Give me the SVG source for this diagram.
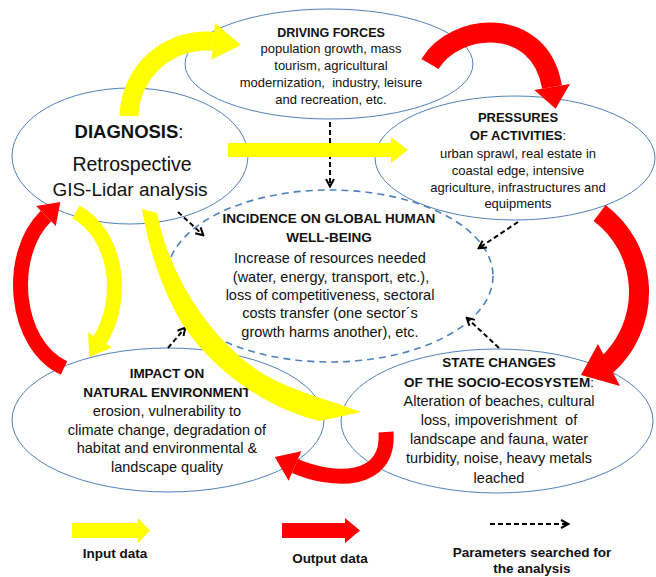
<svg xmlns="http://www.w3.org/2000/svg" width="656" height="577" viewBox="0 0 656 577">
<defs>
<style>
.t{font-family:'Liberation Sans',Arial,sans-serif;fill:#111;text-anchor:middle}
.b{font-weight:bold}
.n{stroke:#4f81bd;stroke-width:1;fill:none}
.nd{stroke:#4f81bd;stroke-width:1.6;fill:none;stroke-dasharray:7 5}
.d{stroke:#000;stroke-width:2;stroke-dasharray:5 3;fill:none;marker-end:url(#ah)}
.y{fill:#ffff00}
.r{fill:#ff0000}
.ys{stroke:#ffff00;fill:none}
.rs{stroke:#ff0000;fill:none}
</style>
<marker id="ah" viewBox="0 0 10 10" refX="8" refY="5" markerWidth="10" markerHeight="10" markerUnits="userSpaceOnUse" orient="auto">
<path d="M1,1 L8.5,5 L1,9" stroke="#000" stroke-width="2" fill="none"/>
</marker>
</defs>
<rect width="656" height="577" fill="#fff"/>

<g id="driving-forces">
<ellipse class="n" cx="329" cy="64" rx="144" ry="55"/>
<text class="t b" x="331" y="37" font-size="12.5">DRIVING FORCES</text>
<text class="t" x="331" y="53" font-size="13">population growth, mass</text>
<text class="t" x="331" y="70" font-size="13">tourism, agricultural</text>
<text class="t" x="331" y="87" font-size="13" xml:space="preserve">modernization,  industry, leisure</text>
<text class="t" x="331" y="104" font-size="13">and recreation, etc.</text>
</g>

<g id="pressures">
<ellipse class="n" cx="515" cy="158" rx="140" ry="62"/>
<text class="t b" x="518" y="122" font-size="13">PRESSURES</text>
<text class="t" x="518" y="140" font-size="13"><tspan font-weight="bold">OF ACTIVITIES</tspan>:</text>
<text class="t" x="518" y="158" font-size="13">urban sprawl, real estate in</text>
<text class="t" x="518" y="175" font-size="13">coastal edge, intensive</text>
<text class="t" x="518" y="192" font-size="13">agriculture, infrastructures and</text>
<text class="t" x="518" y="208" font-size="13">equipments</text>
</g>

<g id="diagnosis">
<ellipse class="n" cx="130" cy="156" rx="118" ry="68"/>
<text class="t" x="129" y="138" font-size="18.5"><tspan font-weight="bold">DIAGNOSIS</tspan>:</text>
<text class="t" x="132" y="171" font-size="19.5">Retrospective</text>
<text class="t" x="130" y="196" font-size="19">GIS-Lidar analysis</text>
</g>

<g id="incidence">
<ellipse class="nd" cx="330" cy="276" rx="163" ry="86"/>
<text class="t b" x="329" y="223" font-size="13.5">INCIDENCE ON GLOBAL HUMAN</text>
<text class="t b" x="329" y="242" font-size="13.5">WELL-BEING</text>
<text class="t" x="330" y="263" font-size="14.5">Increase of resources needed</text>
<text class="t" x="331" y="282" font-size="14.5">(water, energy, transport, etc.),</text>
<text class="t" x="330" y="300" font-size="14.5">loss of competitiveness, sectoral</text>
<text class="t" x="330" y="318" font-size="14.5">costs transfer (one sector´s</text>
<text class="t" x="330" y="337" font-size="14.5">growth harms another), etc.</text>
</g>

<g id="impact">
<ellipse class="n" cx="168" cy="420" rx="156" ry="72"/>
<text class="t b" x="167" y="378" font-size="13.5">IMPACT ON</text>
<text class="t b" x="167" y="397" font-size="13.5">NATURAL ENVIRONMENT</text>
<text class="t" x="167" y="415.5" font-size="14.5">erosion, vulnerability to</text>
<text class="t" x="167" y="434.5" font-size="14.5">climate change, degradation of</text>
<text class="t" x="167" y="453" font-size="14.5">habitat and environmental &amp;</text>
<text class="t" x="167" y="472" font-size="14.5">landscape quality</text>
</g>

<g id="state-changes">
<ellipse class="n" cx="497" cy="421" rx="156" ry="72"/>
<text class="t b" x="499" y="367" font-size="13.5">STATE CHANGES</text>
<text class="t" x="499" y="387" font-size="13.5"><tspan font-weight="bold">OF THE SOCIO-ECOSYSTEM</tspan>:</text>
<text class="t" x="499" y="406" font-size="14.5">Alteration of beaches, cultural</text>
<text class="t" x="499" y="425" font-size="14.5" xml:space="preserve">loss, impoverishment  of</text>
<text class="t" x="499" y="444" font-size="14.5">landscape and fauna, water</text>
<text class="t" x="499" y="463" font-size="14.5">turbidity, noise, heavy metals</text>
<text class="t" x="499" y="483" font-size="14.5">leached</text>
</g>

<g id="connectors">
<g id="dashed">
<line class="d" x1="330" y1="122" x2="330" y2="186"/>
<line class="d" x1="178" y1="212" x2="203" y2="235"/>
<line class="d" x1="518" y1="222" x2="479" y2="248"/>
<line class="d" x1="499" y1="348" x2="467" y2="318"/>
<line class="d" x1="168" y1="348" x2="185" y2="328"/>
</g>
<g id="big-arrows">
<path class="ys" stroke-width="19" d="M129,116 A77,77 0 0 1 213.2,41.3"/>
<polygon class="y" points="215,23 241,45 211.5,59.5"/>

<path class="rs" stroke-width="20" d="M430,64 C455,22 540,15 552,87"/>
<polygon class="r" points="570,84 555.6,108.7 534.3,90"/>

<path class="y" d="M228,143 H391 V137 L408,150 L391,163 V157 H228 Z"/>

<path class="rs" stroke-width="20" d="M599.6,212.9 A99,99 0 0 1 606.2,365.6"/>
<polygon class="r" points="598,344 620,386 581,375"/>

<path class="rs" stroke-width="15" d="M386,432 C390,485 332,482 295,466"/>
<polygon class="r" points="301.4,451.3 288.6,480.7 274.8,457"/>

<path class="rs" stroke-width="15" d="M64,368 C14,345 6,255 46,216"/>
<polygon class="r" points="55.8,226 36.2,206 60.3,202"/>

<path class="ys" stroke-width="15" d="M76,212 C118,235 125,300 100,340"/>
<polygon class="y" points="112,347.4 88,332.6 89.4,357"/>

<path class="y" d="M142,209 L157,213 C170,280 215,345 265,375 C295,392 330,400 361,412 L320,421 C270,410 210,370 180,320 C160,285 148,245 142,209 Z"/>
</g>
</g>

<g id="legend">
<path class="y" d="M72,523 H138 V518 L150,530.5 L138,543 V538 H72 Z"/>
<text class="t b" x="115" y="558" font-size="13.5">Input data</text>
<path class="r" d="M282,523 H345 V518 L360,530.5 L345,543 V538 H282 Z"/>
<text class="t b" x="330" y="563" font-size="13.5">Output data</text>
<line class="d" x1="490" y1="524" x2="568" y2="524"/>
<text class="t b" x="532" y="557" font-size="13.5">Parameters searched for</text>
<text class="t b" x="532" y="573" font-size="13.5">the analysis</text>
</g>
</svg>
